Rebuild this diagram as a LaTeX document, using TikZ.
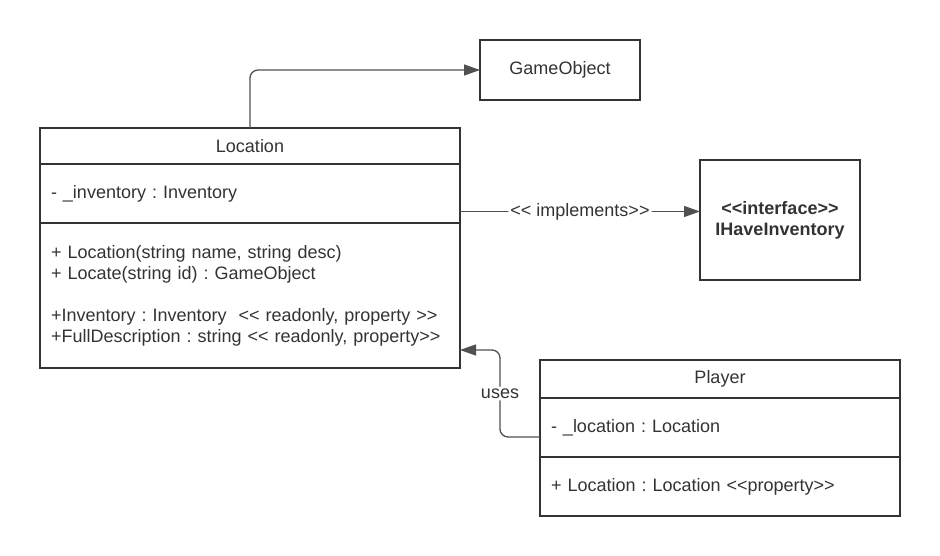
\documentclass[tikz,border=0pt]{standalone}
\usepackage{fontspec}
\usepackage{xcolor}
\usepackage{tikz}
\usetikzlibrary{positioning,arrows.meta}

\newfontfamily\umlfont{Liberation Sans}
\newcommand{\umlsize}{\umlfont\fontsize{18}{21}\selectfont\frenchspacing}
\definecolor{boxline}{HTML}{333333}
\definecolor{connline}{HTML}{505050}

\tikzset{
	classbox/.style={draw=boxline, line width=2pt, outer sep=0pt, text=boxline, font=\umlsize},
	compart/.style={classbox, inner xsep=11pt, inner ysep=0pt, text width=#1, align=left},
	conn/.style={draw=connline, line width=1.3pt, rounded corners=8pt, -{Triangle[length=16pt,width=11pt]}},
	lbl/.style={fill=white, inner sep=2pt, text=boxline, font=\umlsize}
}

\begin{document}
\begin{tikzpicture}[x=1pt,y=-1pt]
		\useasboundingbox (0,0) rectangle (940,556);

		% Location class
		\node[compart=398pt, align=center, minimum height=36pt, anchor=north west] (loctitle) at (40,128) {Location};
		\node[compart=398pt, minimum height=59pt, below=0pt of loctitle] (locattr) {- \_inventory : Inventory};
		\node[compart=398pt, minimum height=145pt, below=0pt of locattr] (locops) {+ Location(string name, string desc)\\+ Locate(string id) : GameObject\\[21pt]+Inventory : Inventory\ \ << readonly, property >>\\+FullDescription : string << readonly, property>>};

		% Player class
		\node[compart=338pt, align=center, minimum height=38pt, anchor=north west] (pltitle) at (540,360) {Player};
		\node[compart=338pt, minimum height=59pt, below=0pt of pltitle] (plattr) {- \_location : Location};
		\node[compart=338pt, minimum height=59pt, below=0pt of plattr] (plops) {+ Location : Location <<property>>};

		\node[classbox, minimum width=160pt, minimum height=60pt, anchor=north west] (gameobj) at (480,40) {GameObject};
		\node[classbox, minimum width=160pt, minimum height=120pt, anchor=north west, align=center, font=\umlsize\bfseries] (iface) at (700,160) {<<interface>>\\IHaveInventory};

		\coordinate (implstart) at ([yshift=11.5pt]locattr.south east);
		\coordinate (usesstart) at ([yshift=-9.5pt]plattr.west);
		\coordinate (usesend) at ([yshift=18pt]locops.south east);

		\draw[conn] (loctitle.north) |- (gameobj.west);
		\draw[conn] (implstart) -- node[lbl] {<< implements>>} (iface.west |- implstart);
		\draw[conn] (usesstart) -- ++(-40,0) |- node[lbl, pos=0.25] {uses} (usesend);
\end{tikzpicture}
\end{document}
